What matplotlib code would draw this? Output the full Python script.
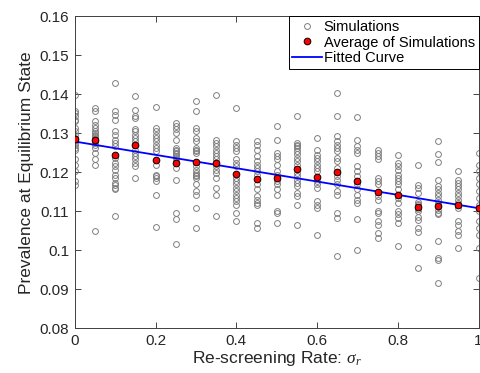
import matplotlib
matplotlib.use("Agg")
import matplotlib.pyplot as plt
import numpy as np

plt.rcParams['font.family'] = ['Liberation Sans', 'DejaVu Sans']
plt.rcParams['mathtext.fontset'] = 'custom'
plt.rcParams['mathtext.it'] = 'Liberation Serif:italic'

rates = [0.0, 0.05, 0.1, 0.15, 0.2, 0.25, 0.3, 0.35, 0.4, 0.45, 0.5,
         0.55, 0.6, 0.65, 0.7, 0.75, 0.8, 0.85, 0.9, 0.95, 1.0]

sims = [
    [0.1399, 0.1357, 0.1352, 0.1344, 0.1335, 0.1331, 0.1314, 0.1305, 0.1297, 0.1288, 0.1284,
     0.1280, 0.1275, 0.1271, 0.1263, 0.1258, 0.1233, 0.1220, 0.1203, 0.1177, 0.1168],
    [0.1365, 0.1357, 0.1331, 0.1322, 0.1314, 0.1305, 0.1301, 0.1297, 0.1292, 0.1288, 0.1284,
     0.1280, 0.1275, 0.1271, 0.1263, 0.1250, 0.1233, 0.1220, 0.1049],
    [0.1429, 0.1357, 0.1348, 0.1335, 0.1305, 0.1297, 0.1284, 0.1275, 0.1267, 0.1237, 0.1224,
     0.1215, 0.1207, 0.1194, 0.1186, 0.1173, 0.1168, 0.1160, 0.1156, 0.1089],
    [0.1395, 0.1361, 0.1344, 0.1339, 0.1310, 0.1305, 0.1297, 0.1288, 0.1280, 0.1271, 0.1258,
     0.1250, 0.1241, 0.1233, 0.1224, 0.1215, 0.1186],
    [0.1367, 0.1314, 0.1305, 0.1297, 0.1288, 0.1280, 0.1271, 0.1263, 0.1254, 0.1220, 0.1194,
     0.1190, 0.1186, 0.1177, 0.1142, 0.1060],
    [0.1327, 0.1318, 0.1310, 0.1301, 0.1284, 0.1263, 0.1258, 0.1254, 0.1250, 0.1246, 0.1241,
     0.1237, 0.1228, 0.1211, 0.1181, 0.1096, 0.1079, 0.1015],
    [0.1384, 0.1357, 0.1314, 0.1305, 0.1288, 0.1280, 0.1263, 0.1258, 0.1254, 0.1250, 0.1215,
     0.1207, 0.1198, 0.1194, 0.1190, 0.1186, 0.1169, 0.1152, 0.1143, 0.1109, 0.1057],
    [0.1399, 0.1284, 0.1275, 0.1267, 0.1258, 0.1250, 0.1241, 0.1233, 0.1215, 0.1207, 0.1198,
     0.1186, 0.1160, 0.1143, 0.1087],
    [0.1365, 0.1280, 0.1271, 0.1263, 0.1254, 0.1233, 0.1224, 0.1215, 0.1186, 0.1177, 0.1169,
     0.1160, 0.1152, 0.1143, 0.1134, 0.1126, 0.1117, 0.1096, 0.1075],
    [0.1280, 0.1271, 0.1258, 0.1241, 0.1228, 0.1220, 0.1211, 0.1203, 0.1194, 0.1169, 0.1156,
     0.1139, 0.1130, 0.1122, 0.1117, 0.1070, 0.1057],
    [0.1318, 0.1284, 0.1250, 0.1241, 0.1233, 0.1220, 0.1203, 0.1194, 0.1177, 0.1169, 0.1156,
     0.1143, 0.1100, 0.1096, 0.1070],
    [0.1344, 0.1275, 0.1271, 0.1267, 0.1263, 0.1254, 0.1246, 0.1237, 0.1228, 0.1220, 0.1199,
     0.1190, 0.1181, 0.1173, 0.1164, 0.1147, 0.1139, 0.1117, 0.1066],
    [0.1288, 0.1258, 0.1245, 0.1237, 0.1228, 0.1220, 0.1211, 0.1203, 0.1177, 0.1169, 0.1160,
     0.1126, 0.1117, 0.1109, 0.1040],
    [0.1404, 0.1344, 0.1292, 0.1280, 0.1271, 0.1263, 0.1254, 0.1237, 0.1228, 0.1211, 0.1190,
     0.1181, 0.1169, 0.1152, 0.1143, 0.1096, 0.1083, 0.0985],
    [0.1341, 0.1284, 0.1267, 0.1258, 0.1250, 0.1215, 0.1203, 0.1190, 0.1169, 0.1156, 0.1143,
     0.1130, 0.1122, 0.1079, 0.1002],
    [0.1258, 0.1250, 0.1241, 0.1233, 0.1186, 0.1177, 0.1169, 0.1139, 0.1130, 0.1100, 0.1096,
     0.1075, 0.1066, 0.1045, 0.1032],
    [0.1245, 0.1224, 0.1215, 0.1207, 0.1194, 0.1186, 0.1177, 0.1169, 0.1156, 0.1134, 0.1122,
     0.1100, 0.1092, 0.1083, 0.1070, 0.1010],
    [0.1219, 0.1167, 0.1159, 0.1147, 0.1125, 0.1120, 0.1115, 0.1105, 0.1100, 0.1085, 0.1078,
     0.1058, 0.1048, 0.1009, 0.0955],
    [0.1281, 0.1247, 0.1227, 0.1181, 0.1164, 0.1156, 0.1147, 0.1139, 0.1130, 0.1122, 0.1104,
     0.1096, 0.1092, 0.1023, 0.0980, 0.0976, 0.0916],
    [0.1204, 0.1181, 0.1173, 0.1164, 0.1156, 0.1147, 0.1139, 0.1130, 0.1122, 0.1109, 0.1075,
     0.1066, 0.1049, 0.1040, 0.1006],
    [0.1250, 0.1220, 0.1203, 0.1186, 0.1169, 0.1152, 0.1134, 0.1117, 0.1100, 0.1075, 0.1057,
     0.1040, 0.1006, 0.0929],
]

averages = [0.1285, 0.1283, 0.1244, 0.1271, 0.1232, 0.1223, 0.1226, 0.1223, 0.1195, 0.1183,
            0.1185, 0.1208, 0.1188, 0.1202, 0.1178, 0.1150, 0.1142, 0.1112, 0.1114, 0.1116, 0.1109]

fit_x = [0.0, 1.0]
fit_y = [0.1279, 0.1108]

xticks = [0, 0.2, 0.4, 0.6, 0.8, 1.0]
xticklabels = ['0', '0.2', '0.4', '0.6', '0.8', '1']
yticks = [0.08, 0.09, 0.10, 0.11, 0.12, 0.13, 0.14, 0.15, 0.16]
yticklabels = ['0.08', '0.09', '0.1', '0.11', '0.12', '0.13', '0.14', '0.15', '0.16']

fig = plt.figure(figsize=(4.8, 3.73), dpi=100)
ax = fig.add_axes([0.156, 0.12, 0.841, 0.836])

sx = np.concatenate([[r] * len(s) for r, s in zip(rates, sims)])
sy = np.concatenate(sims)
ax.plot(sx, sy, linestyle='none', marker='o', markersize=4.2, markerfacecolor='none',
        markeredgecolor='#7f7f7f', markeredgewidth=0.7, label='Simulations', clip_on=True)
ax.plot(rates, averages, linestyle='none', marker='o', markersize=4.8, markerfacecolor='red',
        markeredgecolor='black', markeredgewidth=0.7, label='Average of Simulations', zorder=4)
ax.plot(fit_x, fit_y, color='blue', linewidth=1.3, label='Fitted Curve', zorder=3)

ax.set_xlim(0, 1)
ax.set_ylim(0.08, 0.16)
ax.set_xticks(xticks)
ax.set_xticklabels(xticklabels)
ax.set_yticks(yticks)
ax.set_yticklabels(yticklabels)
ax.tick_params(direction='in', top=True, right=True, length=4, width=0.6,
               labelsize=11, colors='#262626', pad=4)
for sp in ax.spines.values():
    sp.set_color('#404040')
    sp.set_linewidth(0.7)

ax.set_xlabel(r'Re-screening Rate: $\sigma_r$', fontsize=12.5, color='#262626', labelpad=1)
ax.set_ylabel('Prevalence at Equilibrium State', fontsize=12.5, color='#262626', labelpad=4)

leg = ax.legend(loc='upper right', fontsize=10.5, frameon=True, fancybox=False,
                edgecolor='black', framealpha=1, borderpad=0.25, labelspacing=0.1,
                handlelength=2.0, handletextpad=0.15, borderaxespad=0.0)
leg.get_frame().set_linewidth(0.7)

fig.savefig('out.png', dpi=100)
